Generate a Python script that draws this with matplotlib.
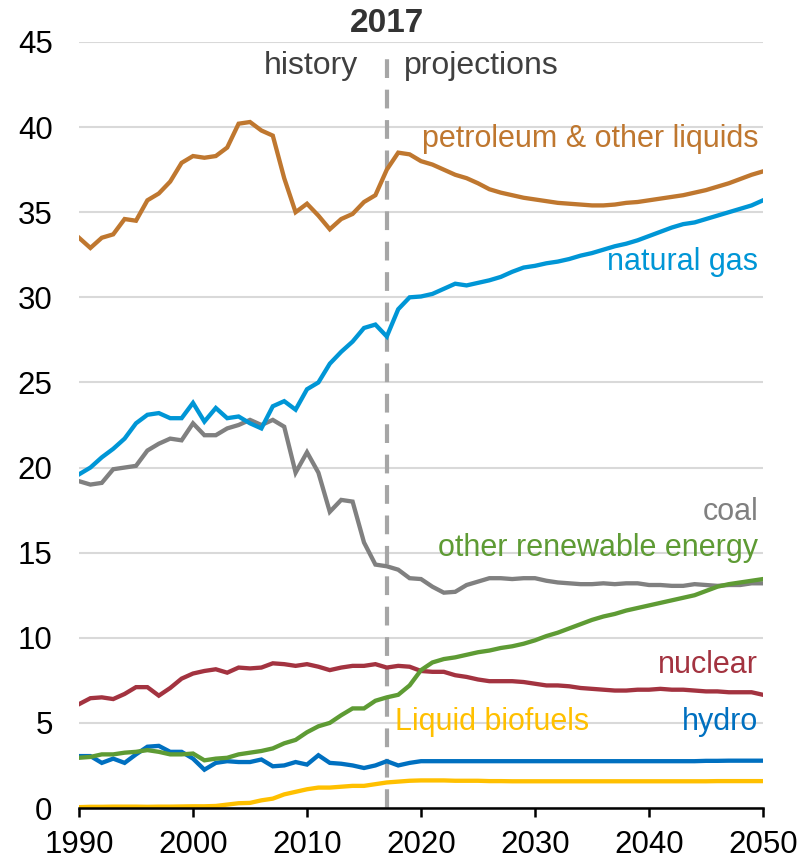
import matplotlib.pyplot as plt
import numpy as np

plt.rcParams['font.family'] = ['Liberation Sans', 'DejaVu Sans']

years = list(range(1990, 2051))

petroleum = [33.5, 32.9, 33.5, 33.7, 34.6, 34.5, 35.7, 36.1, 36.8, 37.9,
             38.3, 38.2, 38.3, 38.8, 40.2, 40.3, 39.8, 39.5, 37.0, 35.0,
             35.5, 34.8, 34.0, 34.6, 34.9, 35.6, 36.0, 37.5, 38.5, 38.4,
             38.0, 37.8, 37.5, 37.2, 37.0, 36.7, 36.35, 36.15, 36.0, 35.85,
             35.75, 35.65, 35.55, 35.5, 35.45, 35.4, 35.4, 35.45, 35.55, 35.6,
             35.7, 35.8, 35.9, 36.0, 36.15, 36.3, 36.5, 36.7, 36.95, 37.2,
             37.4]
natural_gas = [19.6, 20.0, 20.6, 21.1, 21.7, 22.6, 23.1, 23.2, 22.9, 22.9,
               23.8, 22.7, 23.5, 22.9, 23.0, 22.6, 22.3, 23.6, 23.9, 23.4,
               24.6, 25.0, 26.1, 26.8, 27.4, 28.2, 28.4, 27.7, 29.3, 30.0,
               30.05, 30.2, 30.5, 30.8, 30.7, 30.85, 31.0, 31.2, 31.5, 31.75,
               31.85, 32.0, 32.1, 32.25, 32.45, 32.6, 32.8, 33.0, 33.15, 33.35,
               33.6, 33.85, 34.1, 34.3, 34.4, 34.6, 34.8, 35.0, 35.2, 35.4,
               35.7]
coal = [19.2, 19.0, 19.1, 19.9, 20.0, 20.1, 21.0, 21.4, 21.7, 21.6,
        22.6, 21.9, 21.9, 22.3, 22.5, 22.8, 22.5, 22.8, 22.4, 19.7,
        20.9, 19.7, 17.4, 18.1, 18.0, 15.6, 14.3, 14.2, 14.0, 13.5,
        13.45, 13.0, 12.65, 12.7, 13.1, 13.3, 13.5, 13.5, 13.45, 13.5,
        13.5, 13.35, 13.25, 13.2, 13.15, 13.15, 13.2, 13.15, 13.2, 13.2,
        13.1, 13.1, 13.05, 13.05, 13.15, 13.1, 13.05, 13.1, 13.1, 13.2,
        13.2]
other_renewable = [2.95, 3.0, 3.15, 3.15, 3.25, 3.3, 3.4, 3.3, 3.15, 3.15,
                   3.2, 2.8, 2.9, 2.95, 3.15, 3.25, 3.35, 3.5, 3.8, 4.0,
                   4.45, 4.8, 5.0, 5.45, 5.85, 5.85, 6.3, 6.5, 6.65, 7.2,
                   8.1, 8.55, 8.75, 8.85, 9.0, 9.15, 9.25, 9.4, 9.5, 9.65,
                   9.85, 10.1, 10.3, 10.55, 10.8, 11.05, 11.25, 11.4, 11.6, 11.75,
                   11.9, 12.05, 12.2, 12.35, 12.5, 12.75, 13.0, 13.15, 13.25, 13.35,
                   13.45]
nuclear = [6.1, 6.45, 6.5, 6.4, 6.7, 7.1, 7.1, 6.6, 7.05, 7.6,
           7.9, 8.05, 8.15, 7.95, 8.25, 8.2, 8.25, 8.5, 8.45, 8.35,
           8.45, 8.3, 8.1, 8.25, 8.35, 8.35, 8.45, 8.25, 8.35, 8.3,
           8.05, 8.0, 8.0, 7.8, 7.7, 7.55, 7.45, 7.45, 7.45, 7.4,
           7.3, 7.2, 7.2, 7.15, 7.05, 7.0, 6.95, 6.9, 6.9, 6.95,
           6.95, 7.0, 6.95, 6.95, 6.9, 6.85, 6.85, 6.8, 6.8, 6.8,
           6.65]
hydro = [3.05, 3.05, 2.65, 2.9, 2.65, 3.15, 3.6, 3.65, 3.3, 3.3,
         2.9, 2.25, 2.65, 2.75, 2.7, 2.7, 2.85, 2.45, 2.5, 2.7,
         2.55, 3.1, 2.65, 2.6, 2.5, 2.35, 2.5, 2.75, 2.5, 2.65,
         2.75, 2.75, 2.75, 2.75, 2.75, 2.75, 2.75, 2.75, 2.75, 2.75,
         2.75, 2.75, 2.75, 2.75, 2.75, 2.75, 2.75, 2.75, 2.75, 2.75,
         2.75, 2.75, 2.75, 2.75, 2.75, 2.77, 2.77, 2.78, 2.78, 2.78,
         2.78]
biofuels = [0.05, 0.07, 0.07, 0.08, 0.08, 0.08, 0.07, 0.08, 0.08, 0.09,
            0.1, 0.1, 0.12, 0.2, 0.28, 0.3, 0.45, 0.55, 0.8, 0.95,
            1.1, 1.2, 1.2, 1.25, 1.3, 1.3, 1.4, 1.5, 1.55, 1.6,
            1.62, 1.62, 1.62, 1.6, 1.6, 1.6, 1.58, 1.58, 1.57, 1.57,
            1.57, 1.57, 1.57, 1.57, 1.57, 1.57, 1.57, 1.57, 1.57, 1.57,
            1.57, 1.57, 1.57, 1.57, 1.57, 1.57, 1.58, 1.58, 1.58, 1.58,
            1.58]

series = [
    (coal, "#808080"),
    (petroleum, "#BF772F"),
    (natural_gas, "#0096D6"),
    (nuclear, "#A33340"),
    (hydro, "#0070C0"),
    (biofuels, "#FFC000"),
    (other_renewable, "#5E9B34"),
]

fig = plt.figure(figsize=(8.02, 8.61), dpi=100)
ax = fig.add_axes([79 / 802, 1 - 808 / 861, (763 - 79) / 802, (808 - 42) / 861])

for vals, col in series:
    ax.plot(years, vals, color=col, lw=3.1, solid_joinstyle='miter', zorder=3)

ax.set_xlim(1990, 2050)
ax.set_ylim(0, 45)
ax.set_yticks(range(0, 46, 5))
ax.set_xticks(range(1990, 2051, 10))
ax.grid(axis='y', color='#D9D9D9', lw=1.5, zorder=0)
ax.set_axisbelow(True)
for s in ['left', 'right', 'top']:
    ax.spines[s].set_visible(False)
ax.spines['bottom'].set_linewidth(1.8)
ax.spines['bottom'].set_zorder(4)
ax.tick_params(axis='y', length=0, labelsize=22.5, pad=19)
ax.tick_params(axis='x', length=6.5, width=1.8, direction='out', labelsize=22.5, pad=9)

# history / projections divider
ax.plot([2017, 2017], [0, 44.6], color='#A6A6A6', lw=3, dashes=(4.5, 2.8), zorder=2, clip_on=False)
ax.text(2017, 46.1, "2017", ha='center', va='center', fontsize=24, fontweight='bold', color='#333333')
ax.text(2014.5, 43.6, "history", ha='right', va='center', fontsize=23, color='#404040')
ax.text(2018.5, 43.6, "projections", ha='left', va='center', fontsize=23, color='#404040')

# series labels
xr = 2049.6
fs = 22
ax.text(xr, 39.3, "petroleum & other liquids", ha='right', va='center', fontsize=fs, color='#BF772F')
ax.text(xr, 32.05, "natural gas", ha='right', va='center', fontsize=fs, color='#0096D6')
ax.text(xr, 17.4, "coal", ha='right', va='center', fontsize=fs, color='#808080')
ax.text(xr, 15.3, "other renewable energy", ha='right', va='center', fontsize=fs, color='#5E9B34')
ax.text(xr, 8.4, "nuclear", ha='right', va='center', fontsize=fs, color='#A33340')
ax.text(xr, 5.05, "hydro", ha='right', va='center', fontsize=fs, color='#0070C0')
ax.text(2017.7, 5.05, "Liquid biofuels", ha='left', va='center', fontsize=fs, color='#FFC000')

plt.savefig('out.png', dpi=100)
